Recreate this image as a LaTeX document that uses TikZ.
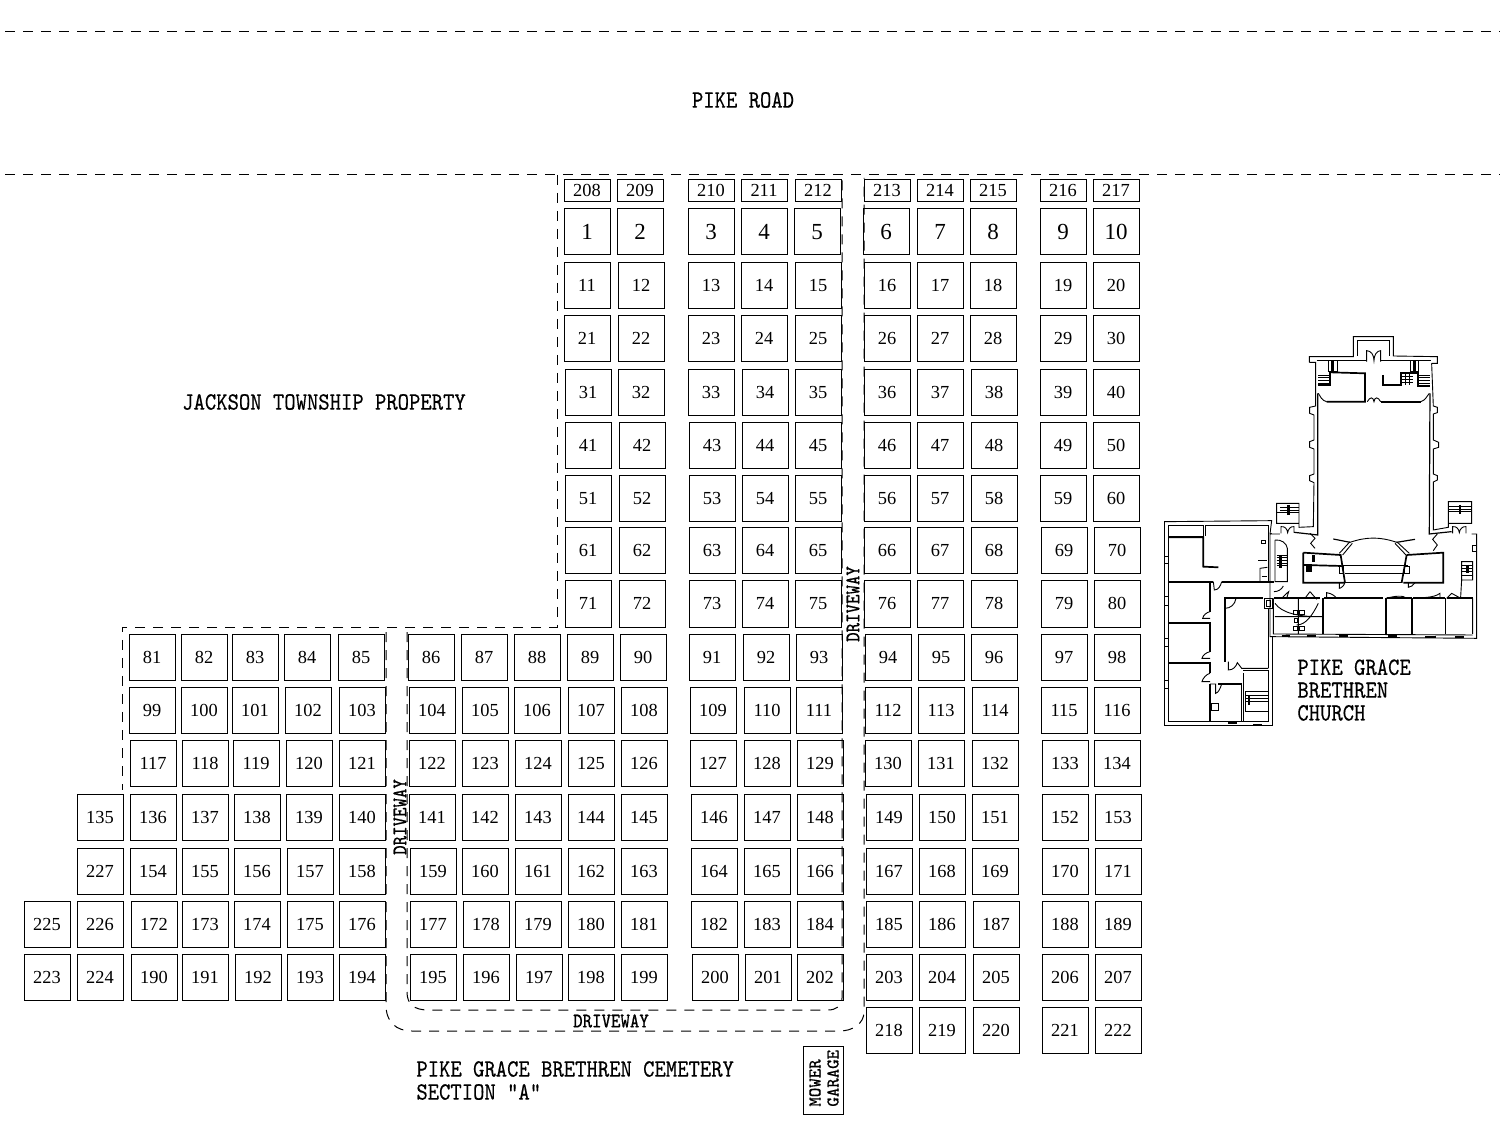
\documentclass[tikz,border=0pt]{standalone}
\usepackage{graphicx}
\usepackage{fontspec}
\newfontfamily\plotfont{Liberation Serif}
\setmonofont[FakeBold=0.4]{Latin Modern Mono}
\tikzset{
  x=0.5pt,y=-0.5pt,
  plot/.style={draw=black,line width=0.5pt,minimum width=23pt,minimum height=23pt,inner sep=0pt,text height=6pt,text depth=0pt,font=\plotfont\fontsize{9.2}{9.2}\selectfont},
  bigplot/.style={plot,text height=7.6pt,font=\plotfont\fontsize{11.5}{11.5}\selectfont},
  smallplot/.style={plot,minimum height=11pt},
  title/.style={inner sep=0pt,font=\ttfamily\fontsize{10.8}{10.8}\selectfont},
  titleleft/.style={title,anchor=west},
  small title/.style={inner sep=0pt,font=\ttfamily\fontsize{9}{9}\selectfont},
  road/.style={line width=0.5pt,dash pattern=on 5pt off 4pt},
  wallthin/.style={line width=0.45pt},
  wallmid/.style={line width=0.6pt},
  wallthick/.style={line width=0.85pt},
  wallheavy/.style={line width=1.3pt},
}
\newcommand{\tall}[1]{\scalebox{1}[1.15]{#1}}
\begin{document}
\begin{tikzpicture}
\useasboundingbox (0,0) rectangle (1500,1128);
\fill[white] (0,0) rectangle (1500,1128);

% road and driveways
\coordinate (ra) at (5,32); \coordinate (rb) at (1500,32);
\coordinate (rc) at (5,175); \coordinate (rd) at (1500,175);
\draw[road] (ra) -- (rb);
\draw[road] (rc) -- (rd);
\draw[road] (557,175) -- (557,627) -- (122,627) -- (122,790);
\draw[road] (386,632) -- (386,1005) .. controls (386,1022) and (396,1031) .. (412,1031) -- (840,1031) .. controls (852,1031) and (864,1024) .. (864,1012) -- (864,178);
\draw[road] (407,632) -- (407,992) .. controls (407,1004) and (414,1010) .. (428,1010) -- (828,1010) .. controls (836,1010) and (842,1006) .. (842,998) -- (842,178);

% titles
\node[title] (pike) at (743,100) {\tall{PIKE ROAD}};
\node[title] (jackson) at (324,402) {\tall{JACKSON TOWNSHIP PROPERTY}};
\node[titleleft] (cem1) at (416,1069) {\tall{PIKE GRACE BRETHREN CEMETERY}};
\node[titleleft] (cem2) at (416,1092) {\tall{SECTION "A"}};
\node[titleleft,align=left,anchor=north west] (ch) at (1297,659) {\tall{PIKE GRACE}\\[0.6pt]\tall{BRETHREN}\\[0.6pt]\tall{CHURCH}};
\node[small title,rotate=90] (dw1) at (853,604) {\tall{DRIVEWAY}};
\node[small title,rotate=90] (dw2) at (400,817) {\tall{DRIVEWAY}};
\node[small title] (dw3) at (611,1021) {\tall{DRIVEWAY}};
\node[draw=black,line width=0.5pt,minimum width=20pt,minimum height=34pt,inner sep=0pt] (mower) at (823,1080) {};
\node[small title,rotate=90,anchor=west] (mw) at (815,1107) {MOWER};
\node[small title,rotate=90,anchor=west] (gr) at (833,1107) {GARAGE};

% plots
\foreach \n/\x in {208/587,209/640,210/711,211/764,212/818,213/887,214/940,215/993,216/1063,217/1116}
  \node[smallplot] (p\n) at (\x,191) {\n};
\foreach \n/\x in {1/587,2/640,3/711,4/764,5/817,6/886,7/940,8/993,9/1063,10/1116}
  \node[bigplot] (p\n) at (\x,232) {\n};
\foreach \n/\x in {11/587,12/641,13/711,14/764,15/818,16/887,17/940,18/993,19/1063,20/1116}
  \node[plot] (p\n) at (\x,286) {\n};
\foreach \n/\x in {21/587,22/641,23/711,24/764,25/818,26/887,27/940,28/993,29/1063,30/1116}
  \node[plot] (p\n) at (\x,339) {\n};
\foreach \n/\x in {31/588,32/641,33/711,34/765,35/818,36/887,37/940,38/994,39/1063,40/1116}
  \node[plot] (p\n) at (\x,393) {\n};
\foreach \n/\x in {41/588,42/642,43/712,44/765,45/818,46/887,47/940,48/994,49/1063,50/1116}
  \node[plot] (p\n) at (\x,446) {\n};
\foreach \n/\x in {51/588,52/642,53/712,54/765,55/818,56/887,57/940,58/994,59/1063,60/1116}
  \node[plot] (p\n) at (\x,499) {\n};
\foreach \n/\x in {61/588,62/642,63/712,64/765,65/818,66/887,67/940,68/994,69/1064,70/1117}
  \node[plot] (p\n) at (\x,551) {\n};
\foreach \n/\x in {71/588,72/642,73/712,74/765,75/818,76/887,77/940,78/994,79/1064,80/1117}
  \node[plot] (p\n) at (\x,604) {\n};
\foreach \n/\x in {81/152,82/204,83/255,84/307,85/361,86/431,87/484,88/537,89/590,90/643,91/712,92/766,93/819,94/888,95/941,96/994,97/1064,98/1117}
  \node[plot] (p\n) at (\x,657) {\n};
\foreach \n/\x in {99/152,100/204,101/255,102/308,103/362,104/432,105/485,106/537,107/591,108/644,109/713,110/767,111/819,112/888,113/941,114/995,115/1064,116/1117}
  \node[plot] (p\n) at (\x,710) {\n};
\foreach \n/\x in {117/153,118/205,119/256,120/309,121/362,122/432,123/485,124/538,125/591,126/644,127/713,128/767,129/820,130/888,131/941,132/995,133/1065,134/1117}
  \node[plot] (p\n) at (\x,763) {\n};
\foreach \n/\x in {135/100,136/153,137/205,138/257,139/309,140/362,141/432,142/485,143/538,144/591,145/644,146/714,147/767,148/820,149/889,150/942,151/995,152/1065,153/1118}
  \node[plot] (p\n) at (\x,817) {\n};
\foreach \n/\x in {227/100,154/153,155/205,156/257,157/310,158/362,159/433,160/485,161/538,162/591,163/644,164/714,165/767,166/820,167/889,168/942,169/995,170/1065,171/1118}
  \node[plot] (p\n) at (\x,871) {\n};
\foreach \n/\x in {225/47,226/100,172/154,173/205,174/257,175/310,176/362,177/433,178/486,179/538,180/591,181/644,182/714,183/767,184/820,185/889,186/942,187/996,188/1065,189/1118}
  \node[plot] (p\n) at (\x,924) {\n};
\foreach \n/\x in {223/47,224/100,190/154,191/205,192/258,193/310,194/362,195/433,196/486,197/539,198/591,199/644,200/715,201/768,202/820,203/889,204/942,205/996,206/1065,207/1118}
  \node[plot] (p\n) at (\x,977) {\n};
\foreach \n/\x in {218/889,219/942,220/996,221/1065,222/1118}
  \node[plot] (p\n) at (\x,1030) {\n};

% church, north part (coordinates in zoom units)
\begin{scope}[shift={(1150,330)},scale=0.3333]
  \draw[wallthin] (478,97)--(478,80)--(610,80)--(610,20)--(730,20)--(730,78)--(862,80)--(862,100)--(845,100);
  \draw[wallthin] (622,78)--(622,32)--(718,32)--(718,78);
  \draw[wallthin] (478,97)--(497,97)--(497,228)--(479,232)--(479,250)--(492,255)--(492,330)--(479,335)--(479,352)--(492,357)--(492,432)--(479,437)--(479,452)--(492,458)--(490,590)--(447,592)--(447,520)--(380,520)--(380,580)--(447,580);
  \draw[wallthin] (845,100)--(850,228)--(862,232)--(862,248)--(850,252)--(850,330)--(866,337)--(866,352)--(850,357)--(850,432)--(862,437)--(862,450)--(850,456)--(850,600)--(895,592)--(895,515)--(965,515)--(965,580)--(895,580);
  \draw[wallthin] (380,548)--(447,548) (895,545)--(965,545);
  \draw[wallthin] (390,532)--(447,532) (390,540)--(447,540) (895,530)--(965,530) (895,538)--(965,538);
  \draw[wallheavy] (415,525)--(415,555) (930,525)--(930,552);
  \draw[wallmid] (500,92)--(650,92) (692,92)--(842,92);
  \draw[wallthin] (650,95)--(650,62) .. controls (664,62) and (672,76) .. (672,92) .. controls (672,76) and (680,62) .. (692,62)--(692,95);
  \draw[wallmid] (503,190)--(503,615)--(432,607);
  \draw[wallmid] (840,190)--(838,612)--(905,605);
  \draw[wallthick] (540,127)--(645,130)--(645,215)--(530,215);
  \draw[wallthin] (530,215) .. controls (515,212) and (512,200) .. (505,190);
  \draw[wallthick] (503,165)--(540,165)--(540,127);
  \draw[wallthick] (692,215)--(812,215);
  \draw[wallthin] (812,215) .. controls (825,212) and (830,200) .. (838,190);
  \draw[wallthick] (698,135)--(698,165)--(752,165)--(752,128)--(805,128)--(805,168)--(840,168);
  \draw[wallthin] (652,215) .. controls (660,200) and (670,200) .. (672,215) .. controls (674,200) and (684,200) .. (692,215);
  \draw[wallthin] (505,135)--(540,135) (505,143)--(540,143) (505,151)--(540,151) (505,159)--(540,159);
  \draw[wallthin] (805,135)--(840,135) (805,143)--(840,143) (805,151)--(840,151) (805,159)--(840,159);
  \draw[wallthin] (752,138)--(790,138) (752,147)--(790,147) (752,156)--(790,156) (765,128)--(765,165) (778,128)--(778,165);
  \draw[wallthin] (535,90) rectangle (562,125) (780,90) rectangle (805,125);
  \draw[wallheavy] (548,92)--(548,122) (793,92)--(793,122);
  \draw[wallthin] (393,610)--(393,590) .. controls (405,588) and (412,598) .. (413,608) .. controls (414,598) and (422,588) .. (432,590)--(432,608);
  \draw[wallthin] (908,610)--(908,590) .. controls (920,588) and (927,598) .. (928,608) .. controls (929,598) and (938,588) .. (948,590)--(948,610);
\end{scope}

% church, south part (coordinates in zoom units)
\begin{scope}[shift={(1150,510)},scale=0.3333]
  \draw[wallthin] (365,70)--(360,72)--(360,380)--(980,385)--(980,72)--(965,72);
  \draw[wallthin] (360,72)--(390,72) (42,35)--(365,32)--(360,72);
  \draw[wallthin] (42,35)--(42,645)--(368,645)--(368,380);
  \draw[wallthin] (55,45)--(160,45)--(160,78)--(55,78)--cycle;
  \draw[wallthick] (55,82)--(160,82)--(160,170)--(205,172);
  \draw[wallthin] (165,78)--(165,45)--(355,45)--(355,215);
  \draw[wallmid] (55,82)--(55,635)--(180,635);
  \draw[wallthick] (55,215)--(190,215) (215,215)--(372,215);
  \draw[wallthin] (190,215)--(193,240) .. controls (205,240) and (212,228) .. (215,215);
  \draw[wallthick] (180,215)--(180,305);
  \draw[wallthin] (180,305) .. controls (170,307) and (160,315) .. (158,325)--(180,325);
  \draw[wallthick] (55,338)--(180,338)--(180,425);
  \draw[wallthin] (180,425) .. controls (170,427) and (158,435) .. (156,445)--(180,445);
  \draw[wallthick] (55,458)--(180,458)--(180,490);
  \draw[wallthin] (180,490) .. controls (170,492) and (158,505) .. (156,515)--(180,515);
  \draw[wallthick] (180,522)--(180,635);
  \draw[wallmid] (180,635)--(355,635)--(355,480);
  \draw[wallmid] (205,522)--(275,522)--(275,635);
  \draw[wallthin] (180,522)--(197,522)--(197,550) .. controls (205,548) and (210,538) .. (215,522);
  \draw[wallmid] (280,490)--(280,635);
  \draw[wallthin] (280,480)--(355,480);
  \draw[wallthick] (225,455)--(225,265)--(340,265);
  \draw[wallthin] (225,295) .. controls (240,295) and (255,285) .. (258,265);
  \draw[wallthin] (235,455)--(235,480) .. controls (250,480) and (258,470) .. (262,458)--(275,475)--(355,475);
  \draw[wallmid] (355,295)--(355,475);
  \draw[wallthin] (342,265) rectangle (368,295) (348,270) rectangle (362,290);
  \draw[wallthin] (330,215)--(330,175)--(352,172);
  \draw[wallthin] (335,90) rectangle (345,100) (325,150)--(352,150) (335,200)--(350,200);
  \draw[wallthin] (285,545)--(355,545) (285,555)--(355,555) (285,565)--(355,565) (285,575)--(355,575) (285,605)--(355,605) (285,545)--(285,605);
  \draw[wallheavy] (297,555)--(297,585);
  \draw[wallthin] (185,580) rectangle (205,600);
  % transept and sanctuary
  \draw[wallthick] (460,128)--(460,218)--(585,218) (460,128)--(572,135)--(585,218);
  \draw[wallthick] (462,165)--(575,168);
  \draw[wallthick] (770,135)--(880,128)--(880,218)--(760,218) (770,135)--(755,218);
  \draw[wallthin] (585,218)--(755,218);
  \draw[wallthin] (575,165)--(775,165) (585,190)--(770,190);
  \draw[wallthin] (568,130)--(600,95) (578,135)--(607,100) (778,130)--(740,95) (768,135)--(735,100);
  \draw[wallthin] (600,97) .. controls (650,80) and (690,80) .. (740,97);
  \draw[wallmid] (550,87)--(600,97) (795,88)--(740,97);
  \draw[wallthin] (480,70)--(495,85)--(482,100)--(495,115) (862,72)--(848,88)--(862,105)--(850,122);
  \draw[wallheavy] (490,135)--(490,155) (472,165) rectangle (482,182);
  \draw[wallthin] (568,170) rectangle (580,190) (763,170) rectangle (778,190);
  \draw[wallthin] (568,218)--(568,235) .. controls (572,235) and (582,228) .. (585,218);
  \draw[wallthin] (775,218)--(775,232) .. controls (782,232) and (790,226) .. (795,218);
  % east wing rooms
  \draw[wallthick] (372,265)--(510,265) (522,265)--(700,265) (710,265)--(785,265) (790,265)--(885,265) (890,265)--(968,265);
  \draw[wallthick] (520,265)--(520,372) (708,265)--(708,372) (787,265)--(787,372) (887,265)--(887,372);
  \draw[wallthin] (968,265)--(968,372) (370,265)--(370,372)--(968,375) (445,265)--(445,372);
  \draw[wallthin] (372,245) .. controls (385,245) and (395,238) .. (400,228) (398,262) .. controls (404,255) and (410,250) .. (416,245)--(410,265);
  \draw[wallthin] (530,265)--(530,248) .. controls (545,250) and (555,258) .. (560,265);
  \draw[wallthin] (708,265) .. controls (735,258) and (760,255) .. (770,265) (790,265) .. controls (815,262) and (850,265) .. (870,250)--(870,265) (890,265)--(905,250) .. controls (915,255) and (925,262) .. (935,265);
  \draw[wallthin] (375,280) .. controls (395,310) and (450,320) .. (505,320) (505,280) .. controls (490,310) and (470,345) .. (440,345) (375,320)--(520,320);
  \draw[wallthin] (480,245)--(465,265) (480,245)--(500,268);
  \draw[wallthin] (430,300) rectangle (442,312) (448,300) rectangle (462,312) (430,350) rectangle (442,362) (448,350) rectangle (462,362) (432,325) rectangle (442,338);
  % stairs
  \draw[wallthin] (375,90)--(375,215)--(412,215)--(412,115) .. controls (410,100) and (395,88) .. (375,90);
  \draw[wallthin] (380,135)--(410,135) (380,143)--(410,143) (380,151)--(410,151) (380,159)--(410,159) (380,167)--(410,167);
  \draw[wallheavy] (392,135)--(392,175);
  \draw[wallthin] (935,155) rectangle (968,210) (935,210)--(932,262);
  \draw[wallthin] (935,165)--(968,165) (935,175)--(968,175) (935,185)--(968,185) (935,195)--(968,195);
  \draw[wallheavy] (952,165)--(952,190);
  \draw[wallthin] (968,105) rectangle (978,125);
  \draw[wallthin] (42,138) rectangle (55,160) (42,260) rectangle (55,285) (42,385) rectangle (55,408) (42,512) rectangle (55,535);
  \draw[wallthick] (395,378)--(420,378) (470,378)--(498,378) (568,378)--(595,378) (715,378)--(740,378) (826,380)--(858,380) (915,380)--(942,380) (235,640)--(262,640) (310,645)--(335,645);
\end{scope}
\end{tikzpicture}
\end{document}
